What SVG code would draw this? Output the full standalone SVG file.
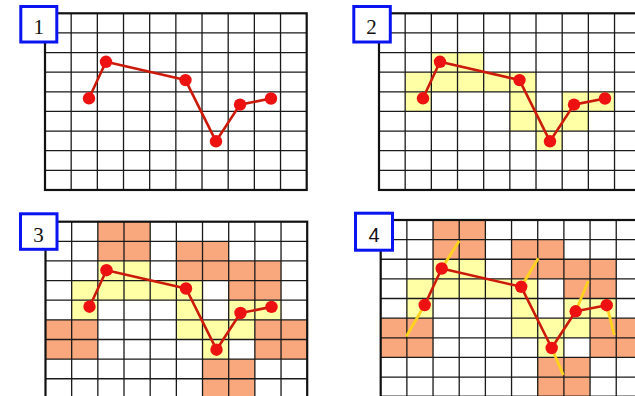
<svg xmlns="http://www.w3.org/2000/svg" xmlns:xlink="http://www.w3.org/1999/xlink" width="635" height="396" viewBox="0 0 635 396">
<style>
.y{fill:#FFFFA6}
.o{fill:#F8A87C}
.gl{fill:none;stroke:#1a1a1a;stroke-width:1.3}
.gb{fill:none;stroke:#111;stroke-width:2.2}
.pl{fill:none;stroke:#CC1A0A;stroke-width:2.6;stroke-linejoin:round}
.pt{fill:#EE1111}
.seg{stroke:#FFD21E;stroke-width:2.8;stroke-linecap:butt}
.box{fill:#fff;stroke:#0A14F0;stroke-width:3}
.ns{font-family:"Liberation Serif",serif;font-size:21px;fill:#111;text-anchor:middle}
.nn{font-family:"Liberation Sans",sans-serif;font-size:20px;fill:#111;text-anchor:middle}
</style>
<defs>
<g id="yellow">
<rect class="y" x="52.34" y="39.26" width="52.34" height="19.63"/>
<rect class="y" x="26.17" y="58.89" width="130.85" height="19.63"/>
<rect class="y" x="26.17" y="78.52" width="26.17" height="19.63"/>
<rect class="y" x="130.85" y="78.52" width="26.17" height="39.26"/>
<rect class="y" x="183.19" y="78.52" width="52.34" height="19.63"/>
<rect class="y" x="157.02" y="98.15" width="52.34" height="19.63"/>
<rect class="y" x="157.02" y="117.78" width="26.17" height="19.63"/>
</g>
<g id="orange">
<rect class="o" x="52.34" y="0" width="52.34" height="39.26"/>
<rect class="o" x="0" y="98.15" width="52.34" height="39.26"/>
<rect class="o" x="130.85" y="19.63" width="52.34" height="19.63"/>
<rect class="o" x="130.85" y="39.26" width="104.68" height="19.63"/>
<rect class="o" x="183.19" y="58.89" width="52.34" height="19.63"/>
<rect class="o" x="209.36" y="98.15" width="52.34" height="39.26"/>
<rect class="o" x="157.02" y="137.41" width="52.34" height="39.26"/>
</g>
<g id="grid">
<path class="gl" d="M26.17 0V176.67M52.34 0V176.67M78.51 0V176.67M104.68 0V176.67M130.85 0V176.67M157.02 0V176.67M183.19 0V176.67M209.36 0V176.67M235.53 0V176.67M0 19.63H261.7M0 39.26H261.7M0 58.89H261.7M0 78.52H261.7M0 98.15H261.7M0 117.78H261.7M0 137.41H261.7M0 157.04H261.7"/>
<rect class="gb" x="0" y="0" width="261.7" height="176.67"/>
</g>
<g id="poly">
<polyline class="pl" points="44,85 61,48.5 140.5,66.8 171,128 195,91.3 226,85.2"/>
<circle class="pt" cx="44" cy="85" r="6.2"/>
<circle class="pt" cx="61" cy="48.5" r="6.2"/>
<circle class="pt" cx="140.5" cy="66.8" r="6.2"/>
<circle class="pt" cx="171" cy="128" r="6.2"/>
<circle class="pt" cx="195" cy="91.3" r="6.2"/>
<circle class="pt" cx="226" cy="85.2" r="6.2"/>
</g>
</defs>
<rect width="635" height="396" fill="#fff"/>
<g id="panel1" transform="translate(45,13.3)">
<use xlink:href="#grid"/>
<use xlink:href="#poly"/>
</g>
<g id="panel2" transform="translate(379,13.3)">
<use xlink:href="#yellow"/>
<use xlink:href="#grid"/>
<use xlink:href="#poly"/>
</g>
<g id="panel3" transform="translate(45.5,221.7)">
<use xlink:href="#yellow"/>
<use xlink:href="#orange"/>
<use xlink:href="#grid"/>
<use xlink:href="#poly"/>
</g>
<g id="panel4" transform="translate(380.7,220)">
<use xlink:href="#yellow"/>
<use xlink:href="#orange"/>
<use xlink:href="#grid"/>
<g id="normals">
<line class="seg" x1="44" y1="85" x2="25.5" y2="116.5"/>
<line class="seg" x1="61" y1="48.5" x2="78.6" y2="20.7"/>
<line class="seg" x1="140.5" y1="66.8" x2="157.6" y2="38.3"/>
<line class="seg" x1="171" y1="128" x2="182.6" y2="155"/>
<line class="seg" x1="195" y1="91.3" x2="207.6" y2="61"/>
<line class="seg" x1="226" y1="85.2" x2="233.6" y2="115"/>
</g>
<use xlink:href="#poly"/>
</g>
<g id="label1"><rect class="box" x="20.8" y="6.5" width="36" height="35.5"/><text class="ns" x="38.8" y="34.3">1</text></g>
<g id="label2"><rect class="box" x="353.8" y="6.5" width="36.5" height="35.5"/><text class="ns" x="371.5" y="34.3">2</text></g>
<g id="label3"><rect class="box" x="20.5" y="213.8" width="36.5" height="35.5"/><text class="ns" x="38.5" y="241.7">3</text></g>
<g id="label4"><rect class="box" x="355.5" y="213.2" width="37" height="37"/><text class="nn" x="374" y="241.7">4</text></g>
</svg>
